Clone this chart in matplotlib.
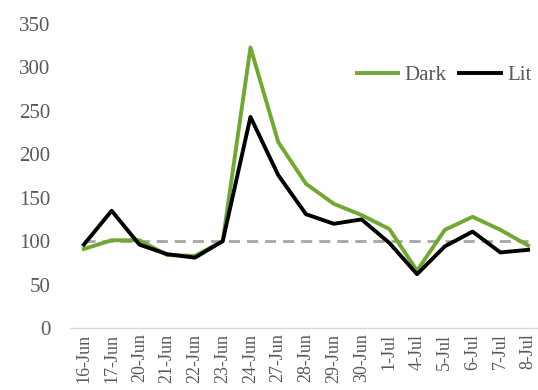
import matplotlib.pyplot as plt

# Data
dates = ["16-Jun", "17-Jun", "20-Jun", "21-Jun", "22-Jun", "23-Jun", "24-Jun",
         "27-Jun", "28-Jun", "29-Jun", "30-Jun", "1-Jul", "4-Jul", "5-Jul",
         "6-Jul", "7-Jul", "8-Jul"]
dark = [91, 101, 101, 84, 83, 100, 323, 214, 166, 143, 130, 114, 66, 113, 128, 113, 95]
lit = [96, 135, 96, 85, 81, 100, 243, 176, 131, 120, 125, 98, 62, 94, 111, 87, 90]
baseline = [100] * len(dates)

GREEN = "#70A832"
TEXT = "#595959"
FONT = ["Liberation Serif", "DejaVu Serif"]

plt.rcParams["font.family"] = FONT

fig = plt.figure(figsize=(5.38, 3.9), dpi=100)
ax = fig.add_axes([70 / 538, 62 / 390, 472 / 538, 304 / 390])

x = list(range(len(dates)))
ax.plot(x, baseline, color="#A6A6A6", lw=2, ls=(0, (4, 2.5)), zorder=1)
ax.plot(x, dark, color=GREEN, lw=2.8, label="Dark", zorder=2)
ax.plot(x, lit, color="black", lw=2.8, label="Lit", zorder=3)

ax.set_xlim(-0.5, len(dates) - 0.5)
ax.set_ylim(0, 350)
ax.set_yticks(range(0, 351, 50))
ax.set_xticks(x)
ax.set_xticklabels(dates, rotation=90)
ax.tick_params(axis="y", length=0, labelsize=15, colors=TEXT, pad=14)
ax.tick_params(axis="x", length=0, labelsize=13, colors=TEXT, pad=4)

for side in ["top", "right", "left"]:
    ax.spines[side].set_visible(False)
ax.spines["bottom"].set_color("#D9D9D9")
ax.spines["bottom"].set_linewidth(1)

leg = ax.legend(loc="upper right", bbox_to_anchor=(0.995, 0.89), ncol=2, frameon=False,
                fontsize=15, handlelength=2.0, handletextpad=0.3, columnspacing=0.6,
                borderaxespad=0)
for t in leg.get_texts():
    t.set_color(TEXT)

fig.savefig("out.png", dpi=100, facecolor="white")
